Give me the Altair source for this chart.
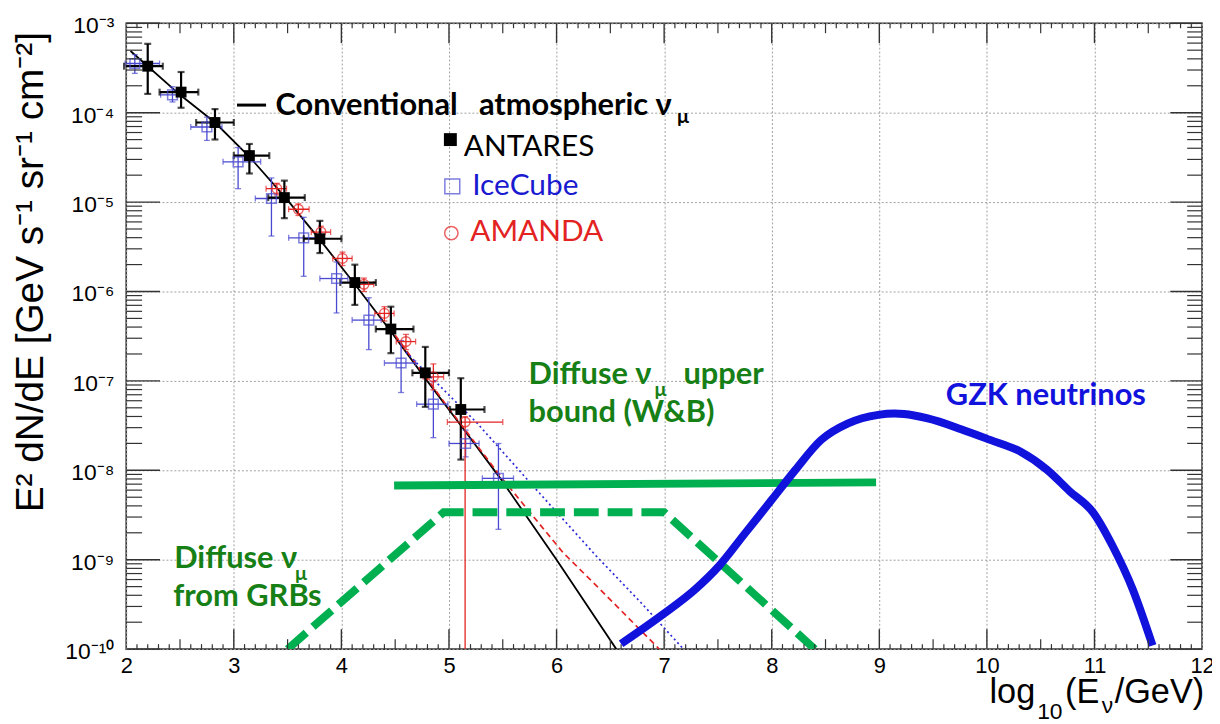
import altair as alt
import numpy as np
import pandas as pd

# ---------------- data (flux values given as log10 of E^2 dN/dE) ----------------
# ANTARES (black filled squares)
ant_x = [2.20, 2.51, 2.825, 3.145, 3.47, 3.80, 4.125, 4.46, 4.78, 5.11]
ant_xlo = [1.98, 2.31, 2.65, 3.00, 3.32, 3.65, 3.99, 4.32, 4.66, 5.01]
ant_xhi = [2.34, 2.67, 3.00, 3.33, 3.66, 4.00, 4.32, 4.67, 5.00, 5.33]
ant_lg = [-3.48, -3.77, -4.11, -4.48, -4.95, -5.41, -5.90, -6.42, -6.91, -7.32]
ant_lo = [-3.79, -3.945, -4.30, -4.68, -5.18, -5.57, -6.15, -6.69, -7.29, -7.88]
ant_hi = [-3.23, -3.545, -3.96, -4.35, -4.76, -5.21, -5.70, -6.17, -6.62, -6.97]

# IceCube (blue open squares)
ic_x = [2.08, 2.43, 2.75, 3.04, 3.35, 3.65, 3.955, 4.255, 4.555, 4.855, 5.155, 5.46]
ic_xlo = [1.99, 2.32, 2.60, 2.90, 3.20, 3.51, 3.80, 4.10, 4.40, 4.70, 5.00, 5.31]
ic_xhi = [2.31, 2.54, 2.89, 3.25, 3.48, 3.80, 4.06, 4.37, 4.69, 4.99, 5.28, 5.60]
ic_lg = [-3.45, -3.80, -4.16, -4.55, -4.96, -5.40, -5.855, -6.32, -6.80, -7.26, -7.70, -8.09]
ic_lo = [-3.56, -3.88, -4.31, -4.85, -5.38, -5.83, -6.24, -6.65, -7.13, -7.635, -7.85, -8.66]
ic_hi = [-3.35, -3.71, -4.05, -4.39, -4.73, -5.17, -5.67, -6.07, -6.55, -7.01, -7.55, -7.70]

# AMANDA (red open circles)
am_x = [3.40, 3.60, 3.81, 4.01, 4.21, 4.40, 4.60, 4.855, 5.15]
am_xlo = [3.30, 3.51, 3.72, 3.92, 4.12, 4.31, 4.51, 4.76, 4.985]
am_xhi = [3.49, 3.70, 3.90, 4.10, 4.30, 4.49, 4.69, 4.95, 5.50]
am_lg = [-4.85, -5.08, -5.335, -5.63, -5.92, -6.245, -6.56, -6.955, -7.46]
am_lo = [-4.92, -5.15, -5.41, -5.71, -6.00, -6.33, -6.65, -7.10, -10.0]
am_hi = [-4.79, -5.02, -5.27, -5.56, -5.85, -6.17, -6.48, -6.81, -7.40]

# Conventional atmospheric nu_mu (black solid)
conv_x = [2.04, 2.50, 2.825, 3.15, 3.48, 3.80, 4.12, 4.45, 4.785, 5.13, 5.477, 6.00, 6.555]
conv_lg = [-3.31, -3.80, -4.11, -4.50, -4.95, -5.42, -5.91, -6.43, -6.98, -7.53, -8.09, -9.00, -10.0]
# red dashed / blue dotted extensions
red_x = [4.50, 5.00, 5.50, 6.06, 6.37, 6.955]
red_lg = [-6.49, -7.31, -8.10, -8.92, -9.29, -10.0]
blu_x = [4.60, 5.26, 5.80, 6.37, 6.80, 7.18]
blu_lg = [-6.68, -7.47, -8.20, -8.96, -9.50, -10.0]

# Waxman-Bahcall upper bound (green solid)
wb_x = [4.49, 8.97]
wb_lg = [-8.17, -8.135]
# GRB diffuse flux (green dashed)
grb_x = [3.50, 4.95, 7.00, 8.40]
grb_lg = [-10.0, -8.47, -8.47, -10.0]
# GZK neutrinos (thick blue)
gzk_x = [6.60, 6.99, 7.29, 7.51, 7.755, 8.00, 8.22, 8.46, 8.71, 8.99, 9.14, 9.23,
         9.45, 9.76, 10.03, 10.31, 10.56, 10.77, 10.99, 11.17, 11.355, 11.54]
gzk_lg = [-9.94, -9.61, -9.33, -9.07, -8.70, -8.33, -7.995, -7.66, -7.475, -7.38, -7.365, -7.37,
          -7.42, -7.54, -7.66, -7.79, -7.995, -8.235, -8.476, -8.85, -9.33, -9.96]

# tick labels
x_tick_vals = [2, 3, 4, 5, 6, 7, 8, 9, 10, 11, 12]
y_exps = [-10, -9, -8, -7, -6, -5, -4, -3]
y_tick_labels = ["10⁻¹⁰", "10⁻⁹", "10⁻⁸", "10⁻⁷", "10⁻⁶", "10⁻⁵", "10⁻⁴", "10⁻³"]

# ---------------- helpers ----------------
W, H = 1083, 630
GREEN = "#00b050"
TGREEN = "#168016"
BLUE = "#1212dd"
RED = "#e32222"
EBLUE = "#4848d0"


def p10(v):
    return [10.0 ** e for e in v]


xscale = alt.Scale(domain=[2, 12], nice=False, zero=False)
yscale = alt.Scale(type="log", domain=[1e-10, 1e-3], nice=False)
grid_kw = dict(grid=True, gridColor="#a0a0a0", gridDash=[2, 2], gridWidth=1)
xaxis = alt.Axis(values=x_tick_vals, labelFont="Liberation Sans", labelFontSize=22,
                 labelColor="black", labelPadding=7, ticks=False, domain=False, title="",
                 labelFlush=False, **grid_kw)
yaxis = alt.Axis(values=p10(y_exps), labels=False, ticks=False, domain=False,
                 title="E² dN/dE [GeV s⁻¹ sr⁻¹ cm⁻²]", titleFont="Liberation Sans",
                 titleFontSize=39, titleFontWeight="normal", titleColor="black",
                 titleAngle=270, titleX=-84, titleY=250, titleAlign="center",
                 titleBaseline="alphabetic", **grid_kw)


def X(f="x"):
    return alt.X(f"{f}:Q", scale=xscale, axis=xaxis)


def Y(f="y"):
    return alt.Y(f"{f}:Q", scale=yscale, axis=yaxis)


def line(xs, lgs, **kw):
    df = pd.DataFrame({"x": xs, "y": p10(lgs)})
    return alt.Chart(df).mark_line(clip=True, **kw).encode(x=X(), y=Y())


def dataset(xs, xlo, xhi, lg, lo, hi):
    return pd.DataFrame({"x": xs, "xlo": xlo, "xhi": xhi, "y": p10(lg),
                         "ylo": p10(lo), "yhi": p10(hi), "lo": lo})


def errbars(df, color, w, cap):
    v = alt.Chart(df).mark_rule(color=color, strokeWidth=w, clip=True).encode(
        x=X(), y=Y("ylo"), y2="yhi:Q")
    h = alt.Chart(df).mark_rule(color=color, strokeWidth=w, clip=True).encode(
        x=X("xlo"), x2="xhi:Q", y=Y())
    capy_df = pd.concat([
        df[df["lo"] > -10][["x", "ylo"]].rename(columns={"ylo": "y"}),
        df[["x", "yhi"]].rename(columns={"yhi": "y"})])
    capx_df = pd.concat([
        df[["xlo", "y"]].rename(columns={"xlo": "x"}),
        df[["xhi", "y"]].rename(columns={"xhi": "x"})])
    cy = alt.Chart(capy_df).mark_tick(orient="horizontal", size=cap, thickness=w,
                                      color=color).encode(x=X(), y=Y())
    cx = alt.Chart(capx_df).mark_tick(orient="vertical", size=cap, thickness=w,
                                      color=color).encode(x=X(), y=Y())
    return [v, h, cy, cx]


def txt(text, x, lg, **kw):
    df = pd.DataFrame({"x": [x], "y": [10.0 ** lg], "t": [text]})
    return alt.Chart(df).mark_text(align="left", baseline="alphabetic", **kw).encode(
        x=X(), y=Y(), text="t:N")


def ptxt(text, px, py, **kw):
    df = pd.DataFrame({"t": [text]})
    return alt.Chart(df).mark_text(align="left", baseline="alphabetic", **kw).encode(
        x=alt.value(px), y=alt.value(py), text="t:N")


ant = dataset(ant_x, ant_xlo, ant_xhi, ant_lg, ant_lo, ant_hi)
ic = dataset(ic_x, ic_xlo, ic_xhi, ic_lg, ic_lo, ic_hi)
am = dataset(am_x, am_xlo, am_xhi, am_lg, am_lo, am_hi)

layers = []
# model lines
layers.append(line(conv_x, conv_lg, color="black", strokeWidth=1.8))
layers.append(line(red_x, red_lg, color=RED, strokeWidth=1.7, strokeDash=[6, 4]))
layers.append(line(blu_x, blu_lg, color="#2a2ad8", strokeWidth=1.7, strokeDash=[2, 3]))

# data points
layers += errbars(ic, EBLUE, 1.3, 6)
layers += errbars(am, RED, 1.3, 6)
layers += errbars(ant, "black", 2.2, 7)
layers.append(alt.Chart(ic).mark_point(shape="square", filled=False, size=95, color=EBLUE,
                                       strokeWidth=1.5).encode(x=X(), y=Y()))
layers.append(alt.Chart(am).mark_point(shape="circle", filled=False, size=95, color=RED,
                                       strokeWidth=1.5).encode(x=X(), y=Y()))
layers.append(alt.Chart(ant).mark_point(shape="square", filled=True, size=120, color="black",
                                        opacity=1).encode(x=X(), y=Y()))

# bounds and GZK
layers.append(line(wb_x, wb_lg, color=GREEN, strokeWidth=8, strokeCap="butt"))
layers.append(line(grb_x, grb_lg, color=GREEN, strokeWidth=8, strokeCap="butt",
                   strokeDash=[25, 9]))
layers.append(line(gzk_x, gzk_lg, color=BLUE, strokeWidth=8, interpolate="monotone",
                   strokeCap="butt"))

# legend-like annotations
leg_line = pd.DataFrame({"x": [3.03], "x2": [3.30], "y": [10 ** -3.915]})
layers.append(alt.Chart(leg_line).mark_rule(color="black", strokeWidth=3).encode(
    x=X(), x2="x2:Q", y=Y()))
bold = dict(font="Lato", fontWeight="bold", fontSize=31)
sub = dict(font="Lato", fontWeight="bold", fontSize=20)
reg = dict(font="Lato", fontSize=30)
layers.append(txt("Conventional", 3.388, -4.023, color="black", **bold))
layers.append(txt("atmospheric ν", 5.278, -4.023, color="black", **bold))
layers.append(txt("μ", 7.12, -4.11, color="black", **sub))

leg_pts = pd.DataFrame({"x": [5.013], "y": [10 ** -4.301]})
layers.append(alt.Chart(leg_pts).mark_point(shape="square", filled=True, size=169,
                                            color="black", opacity=1).encode(x=X(), y=Y()))
leg_ic = pd.DataFrame({"x": [5.031], "y": [10 ** -4.824]})
layers.append(alt.Chart(leg_ic).mark_point(shape="square", filled=False, size=225,
                                           color=EBLUE, strokeWidth=1.5).encode(x=X(), y=Y()))
leg_am = pd.DataFrame({"x": [5.022], "y": [10 ** -5.347]})
layers.append(alt.Chart(leg_am).mark_point(shape="circle", filled=False, size=180,
                                           color=RED, strokeWidth=1.5).encode(x=X(), y=Y()))
layers.append(txt("ANTARES", 5.137, -4.479, color="black", **reg))
layers.append(txt("IceCube", 5.216, -4.919, color="#1a1ad0", **reg))
layers.append(txt("AMANDA", 5.198, -5.436, color=RED, **reg))

layers.append(txt("Diffuse ν", 5.740, -7.038, color=TGREEN, **bold))
layers.append(txt("μ", 6.91, -7.170, color=TGREEN, **sub))
layers.append(txt("upper", 7.18, -7.038, color=TGREEN, **bold))
layers.append(txt("bound (W&B)", 5.740, -7.457, color=TGREEN, **bold))
layers.append(txt("GZK neutrinos", 9.618, -7.271, color=BLUE, **bold))
layers.append(txt("Diffuse ν", 2.446, -9.088, color=TGREEN, **bold))
layers.append(txt("μ", 3.57, -9.225, color=TGREEN, **sub))
layers.append(txt("from GRBs", 2.437, -9.515, color=TGREEN, **bold))

# inward ROOT-style ticks
tenths = np.round(np.arange(2.1, 12.0, 0.1), 1)
x_major = [v for v in tenths if abs(v - round(v)) < 1e-6]
x_half = [v for v in tenths if abs(v - round(v) + 0.5) < 1e-6 or abs(v - round(v) - 0.5) < 1e-6]
x_minor = [v for v in tenths if v not in x_major and v not in x_half]
TK = "#333333"
for vals, L, w in [(x_major, 20, 1.4), (x_half, 10, 1.2), (x_minor, 5, 1.2)]:
    d = pd.DataFrame({"x": vals})
    layers.append(alt.Chart(d).mark_rule(color=TK, strokeWidth=w).encode(
        x=X(), y=alt.value(H), y2=alt.value(H - L)))
    layers.append(alt.Chart(d).mark_rule(color=TK, strokeWidth=w).encode(
        x=X(), y=alt.value(0), y2=alt.value(L)))

y_major = p10(y_exps)
y_minor = [k * 10.0 ** e for e in y_exps[:-1] for k in range(2, 10)]
for vals, L, R, w in [(y_major, 34, 32, 1.4), (y_minor, 16, 15, 1.2)]:
    d = pd.DataFrame({"y": vals})
    layers.append(alt.Chart(d).mark_rule(color=TK, strokeWidth=w).encode(
        y=Y(), x=alt.value(0), x2=alt.value(L)))
    layers.append(alt.Chart(d).mark_rule(color=TK, strokeWidth=w).encode(
        y=Y(), x=alt.value(W - R), x2=alt.value(W)))

# y tick labels
ylab = pd.DataFrame({"y": p10(y_exps), "t": y_tick_labels})
layers.append(alt.Chart(ylab).mark_text(align="right", baseline="alphabetic", dy=10,
                                        font="Liberation Sans", fontSize=23, color="black").encode(
    y=Y(), x=alt.value(-12), text="t:N"))

# x axis title (with subscripts)
tf = dict(font="Liberation Sans", color="black")
layers.append(ptxt("log", 869, 684, fontSize=34.5, **tf))
layers.append(ptxt("10", 917, 700, fontSize=23, **tf))
layers.append(ptxt("(E", 945, 684, fontSize=34.5, **tf))
layers.append(ptxt("ν", 982, 694, fontSize=23, **tf))
layers.append(ptxt("/GeV)", 995, 684, fontSize=34.5, **tf))

chart = alt.layer(*layers).properties(
    width=W, height=H,
    autosize=alt.AutoSizeParams(type="none"),
    padding={"left": 119, "top": 13, "right": 10, "bottom": 72},
    background="white",
).configure_view(stroke="#333333", strokeWidth=1.6)

chart.save("out.html", embed_options={"renderer": "svg", "actions": False})
